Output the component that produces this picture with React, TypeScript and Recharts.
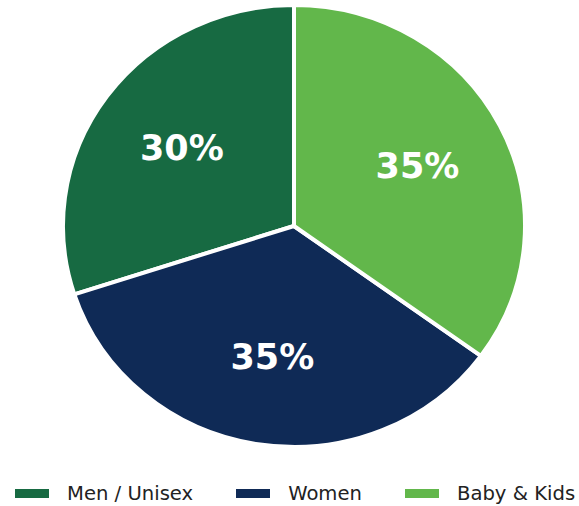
import { PieChart, Pie, Cell, Legend } from "recharts";

// --- data ---
const categories = ["Men / Unisex", "Women", "Baby & Kids"];
const shares = [30, 35, 35];
const colors = ["#176a42", "#0f2a56", "#62b74b"];

const pieData = categories.map((name, i) => ({ name, value: shares[i] }));

// the original pie is a bit squashed vertically
const Y_SCALE = 221 / 231;
const RAD = Math.PI / 180;

function EllipseSector(props: any) {
  const { cx, cy, outerRadius, startAngle, endAngle, fill } = props;
  const rx = outerRadius;
  const ry = outerRadius * Y_SCALE;
  const x1 = cx + rx * Math.cos(startAngle * RAD);
  const y1 = cy - ry * Math.sin(startAngle * RAD);
  const x2 = cx + rx * Math.cos(endAngle * RAD);
  const y2 = cy - ry * Math.sin(endAngle * RAD);
  const large = Math.abs(endAngle - startAngle) > 180 ? 1 : 0;
  const sweep = endAngle > startAngle ? 0 : 1;
  const d = `M${cx},${cy} L${x1},${y1} A${rx},${ry} 0 ${large} ${sweep} ${x2},${y2} Z`;
  return <path d={d} fill={fill} stroke="#fff" strokeWidth={4} strokeLinejoin="round" />;
}

function PctLabel(props: any) {
  const { cx, cy, midAngle, outerRadius, percent } = props;
  const x = cx + 0.6 * outerRadius * Math.cos(midAngle * RAD);
  const y = cy - 0.6 * outerRadius * Y_SCALE * Math.sin(midAngle * RAD);
  return (
    <text
      x={x}
      y={y}
      fill="#fff"
      fontSize={35}
      fontWeight="bold"
      fontFamily="DejaVu Sans"
      textAnchor="middle"
      dominantBaseline="central"
    >
      {`${Math.round(percent * 100)}%`}
    </text>
  );
}

function LegendBox() {
  return (
    <div style={{ display: "flex", alignItems: "center", paddingLeft: 15, fontFamily: "DejaVu Sans", fontSize: 19.6, color: "#222" }}>
      {categories.map((name, i) => (
        <div key={name} style={{ display: "flex", alignItems: "center", marginRight: 43 }}>
          <span style={{ display: "inline-block", width: 34, height: 9, background: colors[i], marginRight: 18 }} />
          <span style={{ whiteSpace: "nowrap" }}>{name}</span>
        </div>
      ))}
    </div>
  );
}

export default function App() {
  return (
    <div style={{ position: "absolute", left: 0, top: 0, background: "#fff" }}>
      <PieChart width={579} height={506} margin={{ top: 0, right: 0, bottom: 0, left: 0 }}>
        <Pie
          data={pieData}
          dataKey="value"
          nameKey="name"
          cx={294}
          cy={226}
          outerRadius={231}
          startAngle={90}
          endAngle={450}
          shape={EllipseSector}
          label={PctLabel}
          labelLine={false}
          isAnimationActive={false}
          stroke="#fff"
        >
          {pieData.map((_, i) => (
            <Cell key={i} fill={colors[i]} />
          ))}
        </Pie>
        <Legend
          content={LegendBox}
          wrapperStyle={{ position: "absolute", left: 0, top: 482, width: 579, height: 24 }}
        />
      </PieChart>
    </div>
  );
}
